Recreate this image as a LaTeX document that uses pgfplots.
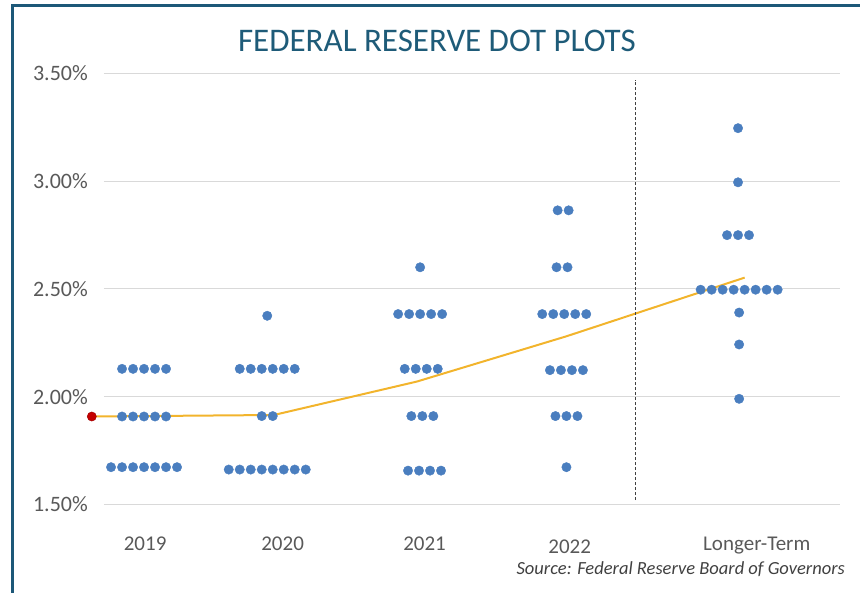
\documentclass[border=0pt]{standalone}
\usepackage{pgfplots}
\pgfplotsset{compat=1.18}
\usepackage{fontspec}
\setmainfont{Carlito}
\definecolor{dotblue}{HTML}{4A7EBF}
\definecolor{meanline}{HTML}{F2B42C}
\definecolor{current}{HTML}{C40000}
\definecolor{titleblue}{HTML}{1E5B78}
\definecolor{frame}{HTML}{1D5878}
\definecolor{ticktext}{HTML}{595959}
\definecolor{gridgrey}{HTML}{D9D9D9}

\begin{document}
\begin{tikzpicture}[x=1pt,y=1pt]
\begin{axis}[
  scale only axis, width=736pt, height=431.3pt,
  xmin=-3.64, xmax=63.27, ymin=1.5, ymax=3.5,
  clip=false,
  axis line style={draw=none}, major tick length=0pt,
  ymajorgrids, major grid style={gridgrey,line width=1pt},
  ytick={1.5,2,2.5,3,3.5},
  yticklabels={1.50\%,2.00\%,2.50\%,3.00\%,3.50\%},
  yticklabel style={font=\fontsize{22}{24}\selectfont,text=ticktext,anchor=east,inner sep=0pt,xshift=-16pt},
  xtick={0.1,12.6,25.5,38.7,55.7},
  xticklabels={2019,2020,2021,\raisebox{-3pt}{2022},Longer-Term},
  xticklabel style={font=\fontsize{21}{23}\selectfont,text=ticktext,anchor=base,inner sep=0pt,yshift=-46.5pt},
]
\coordinate (pSW) at (rel axis cs:0,0);
% dot positions: x in dot widths, y in percent
\addplot[only marks,mark=*,mark size=4.7pt,mark options={fill=dotblue,draw=dotblue}] coordinates {
  % 2019
  (-2,2.129) (-1,2.129) (0,2.129) (1,2.129) (2,2.129)
  (-2,1.908) (-1,1.908) (0,1.908) (1,1.908) (2,1.908)
  (-3,1.673) (-2,1.673) (-1,1.673) (0,1.673) (1,1.673) (2,1.673) (3,1.673)
  % 2020
  (11.2,2.375)
  (8.7,2.129) (9.7,2.129) (10.7,2.129) (11.7,2.129) (12.7,2.129) (13.7,2.129)
  (10.7,1.910) (11.7,1.910)
  (7.7,1.662) (8.7,1.662) (9.7,1.662) (10.7,1.662) (11.7,1.662) (12.7,1.662) (13.7,1.662) (14.7,1.662)
  % 2021
  (25.1,2.600)
  (23.1,2.383) (24.1,2.383) (25.1,2.383) (26.1,2.383) (27.1,2.383)
  (23.7,2.129) (24.7,2.129) (25.7,2.129) (26.7,2.129)
  (24.3,1.910) (25.3,1.910) (26.3,1.910)
  (24.0,1.657) (25.0,1.657) (26.0,1.657) (27.0,1.657)
  % 2022
  (37.6,2.864) (38.6,2.864)
  (37.5,2.600) (38.5,2.600)
  (36.2,2.383) (37.2,2.383) (38.2,2.383) (39.2,2.383) (40.2,2.383)
  (36.9,2.123) (37.9,2.123) (38.9,2.123) (39.9,2.123)
  (37.4,1.910) (38.4,1.910) (39.4,1.910)
  (38.4,1.673)
  % longer term
  (54.0,3.245)
  (54.0,2.994)
  (53.0,2.749) (54.0,2.749) (55.0,2.749)
  (50.6,2.496) (51.6,2.496) (52.6,2.496) (53.6,2.496) (54.6,2.496) (55.6,2.496) (56.6,2.496) (57.6,2.496)
  (54.1,2.390)
  (54.1,2.242)
  (54.1,1.990)
};
% mean of the projections
\addplot[meanline,line width=2pt,no marks] coordinates {
  (-4.75,1.908) (11.8,1.915) (24.8,2.070) (38.4,2.280) (54.6,2.552)
};
% current rate
\addplot[only marks,mark=*,mark size=4.6pt,mark options={fill=current,draw=current!80!black}] coordinates {(-4.75,1.908)};
% divider before the longer run
\addplot[black!75,line width=1pt,dash pattern=on 3pt off 2pt,no marks] coordinates {(44.7,1.52) (44.7,3.47)};
\end{axis}
\pgfresetboundingbox
\begin{scope}[shift={(pSW)}]
\path[use as bounding box] (-104,-88.5) rectangle (756,504.5);
\node[anchor=base,text=titleblue,font=\fontsize{33}{36}\selectfont] at (333,452.5) {FEDERAL RESERVE DOT PLOTS};
\node[anchor=base east,inner sep=0pt,text=black!75,font=\fontsize{18.5}{20}\selectfont\itshape] at (741,-70.5) {Source: Federal Reserve Board of Governors};
\draw[frame,line width=3pt] (-91,-88.5) -- (-91,498.5) -- (756,498.5);
\end{scope}
\end{tikzpicture}
\end{document}
